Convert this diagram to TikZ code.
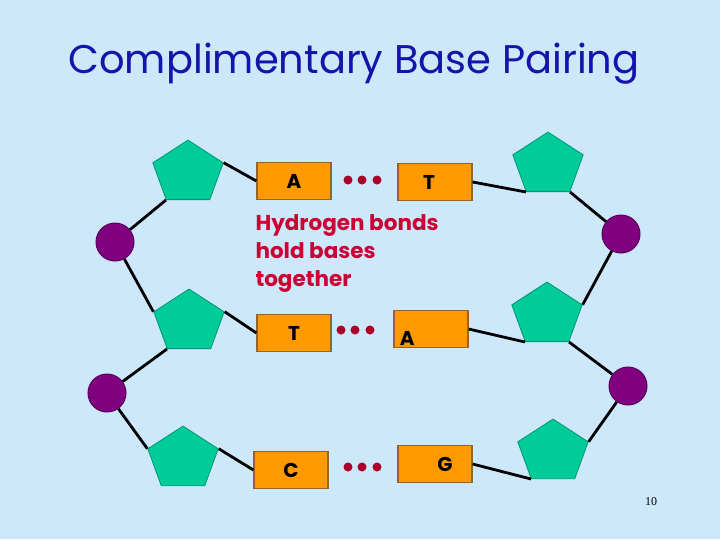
\documentclass[tikz,border=0pt]{standalone}
\usepackage{fontspec}
\setmainfont{Poppins}
\newfontfamily\numfont{Liberation Serif}
\usetikzlibrary{shapes.geometric}
\definecolor{bgblue}{RGB}{204,232,250}
\definecolor{titleblue}{RGB}{20,20,170}
\definecolor{sugargreen}{RGB}{0,204,153}
\definecolor{sugaredge}{RGB}{0,150,115}
\definecolor{baseorange}{RGB}{255,153,0}
\definecolor{baseedge}{RGB}{150,100,40}
\definecolor{phosphpurple}{RGB}{128,0,128}
\definecolor{phosphedge}{RGB}{90,0,90}
\definecolor{textred}{RGB}{204,0,51}
\definecolor{dotred}{RGB}{170,0,40}

\begin{document}
\begin{tikzpicture}[x=1pt,y=-1pt,
        sugar/.style={regular polygon, regular polygon sides=5, minimum size=74pt, inner sep=0pt,
            fill=sugargreen, draw=sugaredge, line width=0.8pt, yscale=0.89},
        phosphate/.style={circle, minimum size=38pt, inner sep=0pt, fill=phosphpurple, draw=phosphedge, line width=1pt},
        basebox/.style={rectangle, minimum width=74pt, minimum height=37pt, inner sep=0pt,
            fill=baseorange, draw=baseedge, line width=1.2pt, font=\fontsize{20}{20}\selectfont\bfseries},
        bond/.style={line width=2.8pt, black},
        hdot/.style={dotred}]
        \useasboundingbox (0,0) rectangle (720,539);
        \fill[bgblue] (0,0) rectangle (720,539);

        % Title
        \node[text=titleblue, font=\fontsize{40}{40}\selectfont] (title) at (354,64) {Complimentary Base Pairing};

        % Left strand
        \node[sugar] (sL1) at (188,173) {};
        \node[sugar] (sL2) at (189,322) {};
        \node[sugar] (sL3) at (183,459) {};
        \node[phosphate] (pL1) at (115,242) {};
        \node[phosphate] (pL2) at (107,393) {};

        % Right strand
        \node[sugar] (sR1) at (548,165) {};
        \node[sugar] (sR2) at (547,315) {};
        \node[sugar] (sR3) at (553,452) {};
        \node[phosphate] (pR1) at (621,234) {};
        \node[phosphate] (pR2) at (628,386) {};

        % Bases
        \node[basebox] (bA1) at (294,181) {A};
        \node[basebox] (bT1) at (435,182) {\hspace{-12pt}T};
        \node[basebox] (bT2) at (294,333) {T};
        \node[basebox, label={[anchor=south west, xshift=3pt, yshift=-1pt, font=\fontsize{20}{20}\selectfont\bfseries]south west:A}] (bA2) at (431,329) {};
        \node[basebox] (bC) at (291,470) {C};
        \node[basebox] (bG) at (435,464) {\hspace{20pt}G};

        % Backbone
        \draw[bond] (sL1.corner 3) -- (pL1);
        \draw[bond] (pL1) -- (sL2.corner 2);
        \draw[bond] (sL2.corner 3) -- (pL2);
        \draw[bond] (pL2) -- (sL3.corner 2);
        \draw[bond] (sR1.corner 4) -- (pR1);
        \draw[bond] (pR1) -- (sR2.corner 5);
        \draw[bond] (sR2.corner 4) -- (pR2);
        \draw[bond] (pR2) -- (sR3.corner 5);

        % Sugar to base
        \draw[bond] (sL1.corner 5) -- (bA1.west);
        \draw[bond] (bT1.east) -- (sR1.corner 3);
        \draw[bond] (sL2.corner 5) -- (bT2.west);
        \draw[bond] (bA2.east) -- (sR2.corner 3);
        \draw[bond] (sL3.corner 5) -- (bC.west);
        \draw[bond] (bG.east) -- (sR3.corner 3);

        % Hydrogen bonds
        \foreach \x in {348,362,377} {
            \fill[hdot] (\x,180) circle (4.5);
            \fill[hdot] (\x-7,330) circle (4.5);
            \fill[hdot] (\x,467) circle (4.5);
        }
        \node[anchor=north west, align=left, text=textred, font=\fontsize{21.5}{28}\selectfont\bfseries] (note) at (252,211) {Hydrogen bonds\\hold bases\\together};

        \node[font=\numfont\fontsize{12}{12}\selectfont] (pageno) at (651,502) {10};
    \end{tikzpicture}
\end{document}
